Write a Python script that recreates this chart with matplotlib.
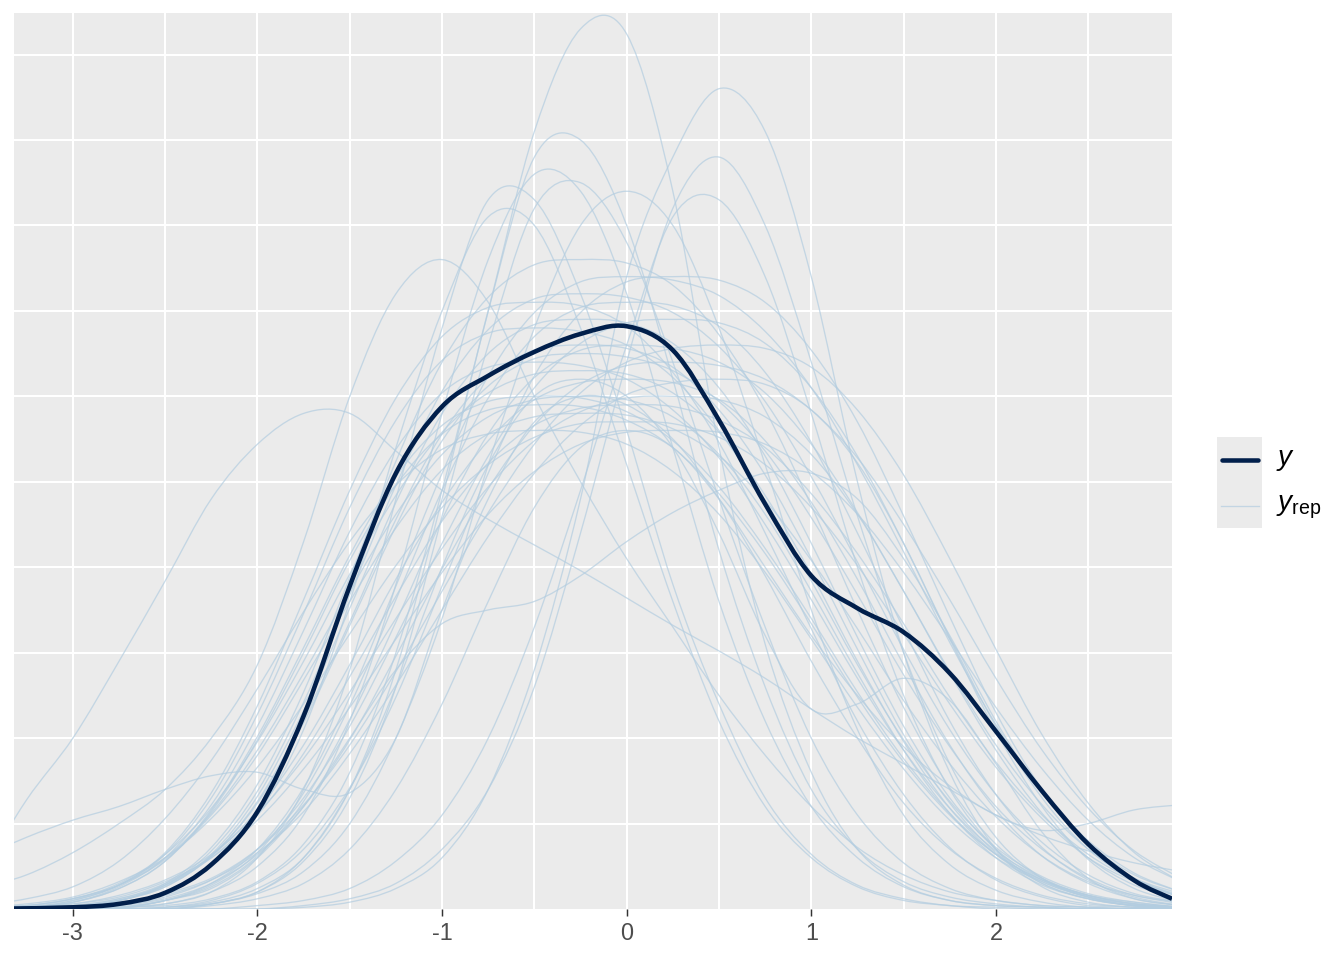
import matplotlib
matplotlib.use("Agg")
import matplotlib.pyplot as plt
from matplotlib.lines import Line2D
from matplotlib.patches import Rectangle, PathPatch
from matplotlib.path import Path

plt.rcParams['font.family'] = ['Liberation Sans', 'DejaVu Sans']
plt.rcParams['axes.unicode_minus'] = False
plt.rcParams['mathtext.fontset'] = 'custom'
plt.rcParams['mathtext.rm'] = 'Liberation Sans'
plt.rcParams['mathtext.it'] = 'Liberation Sans:italic'

y_x = [-3.319, -3.0, -2.75, -2.5, -2.25, -2.0, -1.75, -1.5, -1.25, -1.0, -0.75, -0.5, -0.25,
       0.0, 0.25, 0.5, 0.75, 1.0, 1.25, 1.5, 1.75, 2.0, 2.25, 2.5, 2.75, 2.954]
y_dens = [0.0003, 0.001, 0.003, 0.0095, 0.026, 0.057, 0.113, 0.189, 0.255, 0.294, 0.312, 0.326,
          0.3365, 0.341, 0.327, 0.286, 0.237, 0.195, 0.176, 0.162, 0.138, 0.104, 0.069,
          0.038, 0.0167, 0.006]

# replicated densities (y_rep), estimated on a common x grid
grid_x = [-3.5, -3.25, -3.0, -2.75, -2.5, -2.25, -2.0, -1.75, -1.5, -1.25, -1.0, -0.75, -0.5,
          -0.25, 0.0, 0.25, 0.5, 0.75, 1.0, 1.25, 1.5, 1.75, 2.0, 2.25, 2.5, 2.75, 3.0]

rep_01 = [0, 0, 0, .001, .002, .006, .016, .038, .08, .15, .245, .35, .455, .515, .512, .42, .27, .155, .08, .035, .014, .005, .002, .001, 0, 0, 0]
rep_02 = [0, 0, 0, 0, 0, 0, 0, .001, .004, .012, .03, .07, .14, .24, .37, .44, .48, .455, .37, .25, .15, .08, .035, .013, .004, .001, 0]
rep_03 = [0, 0, 0, 0, .001, .004, .012, .03, .07, .14, .24, .35, .44, .45, .40, .31, .21, .13, .07, .035, .016, .007, .003, .001, 0, 0, 0]
rep_04 = [0, 0, 0, 0, 0, 0, 0, .002, .006, .015, .035, .07, .13, .22, .32, .41, .44, .40, .32, .23, .15, .085, .042, .018, .007, .002, .001]
rep_05 = [0, 0, 0, .001, .003, .01, .025, .055, .11, .19, .29, .38, .43, .42, .36, .27, .18, .11, .06, .03, .013, .005, .002, .001, 0, 0, 0]
rep_06 = [0, 0, 0, 0, 0, .003, .01, .028, .065, .13, .23, .33, .41, .425, .39, .32, .24, .165, .10, .055, .027, .012, .005, .002, .001, 0, 0]
rep_07 = [0, 0, 0, 0, .001, .003, .009, .022, .05, .10, .17, .26, .34, .40, .42, .40, .34, .26, .175, .105, .055, .026, .011, .004, .001, 0, 0]
rep_08 = [0, 0, 0, .001, .003, .01, .03, .07, .14, .24, .34, .415, .415, .36, .28, .19, .12, .065, .032, .014, .006, .002, .001, 0, 0, 0, 0]
rep_09 = [0, 0, 0, 0, 0, 0, .002, .005, .012, .028, .055, .10, .165, .245, .33, .405, .415, .37, .29, .20, .125, .07, .035, .015, .006, .002, .001]
rep_10 = [0, 0, .001, .003, .01, .025, .055, .105, .18, .27, .35, .405, .40, .34, .26, .18, .11, .06, .03, .013, .005, .002, 0, 0, 0, 0, 0]
rep_11 = [.012, .02, .033, .05, .07, .10, .143, .215, .30, .36, .38, .355, .30, .25, .205, .165, .125, .09, .06, .036, .02, .01, .005, .002, .001, 0, 0]
rep_12 = [.02, .064, .10, .145, .192, .24, .272, .29, .29, .268, .245, .228, .213, .198, .182, .166, .151, .135, .117, .10, .085, .07, .055, .043, .034, .027, .022]
rep_13 = [0, 0, 0, 0, 0, .003, .01, .03, .07, .13, .20, .26, .30, .31, .30, .27, .22, .16, .117, .12, .135, .122, .085, .045, .018, .006, .002]
rep_14 = [.03, .042, .052, .06, .07, .078, .08, .07, .068, .10, .175, .24, .285, .30, .295, .275, .24, .195, .145, .10, .062, .035, .018, .008, .003, .001, 0]
rep_15 = [0, 0, 0, 0, 0, .002, .006, .015, .035, .07, .12, .18, .235, .27, .28, .27, .24, .20, .16, .125, .095, .072, .055, .046, .05, .058, .061]
rep_16 = [0, 0, 0, 0, .005, .012, .03, .06, .10, .14, .167, .175, .18, .195, .215, .232, .245, .255, .255, .24, .205, .16, .11, .068, .038, .02, .01]
rep_17 = [0, 0, .001, .005, .013, .031, .063, .111, .168, .228, .278, .311, .327, .330, .328, .317, .292, .254, .205, .152, .102, .062, .033, .016, .007, .002, .001]
rep_18 = [0, .001, .002, .006, .015, .031, .058, .096, .143, .193, .238, .274, .298, .308, .310, .308, .298, .274, .238, .193, .143, .096, .058, .031, .015, .006, .002]
rep_19 = [0, .001, .005, .014, .032, .065, .114, .173, .235, .286, .321, .337, .340, .338, .330, .311, .280, .239, .192, .143, .099, .063, .036, .019, .009, .004, .001]
rep_20 = [0, 0, .001, .005, .014, .034, .069, .121, .184, .248, .303, .339, .357, .360, .358, .349, .329, .297, .253, .203, .152, .105, .067, .039, .020, .009, .004]
rep_21 = [0, 0, .001, .002, .006, .015, .032, .060, .099, .148, .199, .246, .283, .307, .318, .320, .318, .310, .292, .264, .225, .181, .135, .093, .059, .034, .018]
rep_22 = [0, .001, .004, .012, .028, .058, .101, .153, .207, .253, .283, .297, .300, .299, .291, .274, .247, .211, .170, .127, .088, .056, .032, .017, .008, .003, .001]
rep_23 = [0, 0, 0, .001, .005, .014, .033, .068, .119, .181, .245, .299, .335, .352, .355, .353, .341, .314, .273, .220, .164, .110, .067, .036, .017, .007, .002]
rep_24 = [0, .001, .003, .008, .017, .032, .056, .088, .127, .170, .211, .247, .274, .291, .299, .300, .298, .288, .266, .231, .186, .138, .093, .056, .030, .014, .006]
rep_25 = [.001, .002, .006, .014, .029, .055, .090, .134, .180, .223, .257, .278, .288, .290, .289, .281, .265, .239, .204, .164, .122, .085, .054, .031, .016, .008, .003]
rep_26 = [0, .001, .004, .013, .030, .061, .107, .163, .221, .269, .302, .317, .320, .318, .310, .292, .264, .225, .181, .135, .093, .059, .034, .018, .008, .004, .001]
rep_27 = [.001, .003, .007, .016, .030, .053, .083, .120, .161, .201, .235, .260, .276, .284, .285, .284, .276, .260, .235, .201, .161, .120, .083, .053, .030, .016, .007]
rep_28 = [0, 0, .002, .005, .015, .036, .073, .127, .194, .262, .320, .358, .377, .380, .378, .365, .336, .292, .236, .175, .118, .071, .038, .018, .008, .003, .001]
rep_29 = [0, 0, .001, .003, .008, .017, .033, .057, .091, .131, .175, .218, .255, .283, .301, .308, .310, .307, .292, .261, .214, .158, .104, .060, .029, .012, .004]
rep_30 = [0, .001, .005, .014, .033, .068, .119, .181, .245, .299, .335, .352, .355, .353, .341, .314, .273, .220, .164, .110, .067, .036, .017, .007, .002, .001, 0]
rep_31 = [0, 0, .001, .002, .007, .017, .035, .065, .107, .159, .214, .265, .305, .331, .343, .345, .343, .331, .305, .265, .214, .159, .107, .065, .035, .017, .007]
rep_32 = [0, .001, .004, .012, .028, .057, .099, .150, .204, .248, .278, .292, .295, .294, .286, .270, .243, .208, .167, .124, .086, .055, .032, .017, .008, .003, .001]
rep_33 = [0, 0, 0, .001, .005, .015, .035, .071, .124, .189, .255, .312, .349, .367, .370, .368, .359, .338, .305, .260, .209, .156, .108, .068, .040, .021, .010]
rep_34 = [.001, .002, .006, .014, .030, .056, .093, .138, .186, .231, .266, .288, .298, .300, .298, .288, .266, .231, .186, .138, .093, .056, .030, .014, .006, .002, .001]
rep_35 = [0, 0, .001, .004, .009, .018, .035, .061, .096, .139, .186, .232, .272, .302, .320, .328, .330, .328, .317, .292, .254, .205, .152, .102, .062, .033, .016]
rep_36 = [.001, .002, .006, .015, .032, .059, .098, .145, .196, .242, .279, .302, .313, .315, .313, .302, .279, .242, .196, .145, .098, .059, .032, .015, .006, .002, .001]
rep_37 = [0, .001, .003, .007, .016, .030, .052, .082, .118, .158, .197, .231, .256, .272, .279, .280, .279, .272, .256, .231, .197, .158, .118, .082, .052, .030, .016]
rep_38 = [0, 0, .001, .005, .013, .031, .062, .109, .166, .224, .274, .306, .322, .325, .323, .315, .297, .268, .229, .184, .137, .095, .060, .035, .018, .008, .004]
rep_39 = [0, 0, 0, .001, .005, .013, .031, .063, .111, .168, .228, .278, .311, .327, .330, .328, .320, .302, .272, .232, .186, .139, .096, .061, .035, .018, .009]
rep_40 = [.002, .006, .013, .028, .053, .087, .129, .174, .215, .248, .269, .278, .280, .279, .272, .256, .231, .197, .158, .118, .082, .052, .030, .016, .007, .003, .001]
rep_41 = [0, 0, 0, 0, .001, .005, .015, .035, .071, .124, .189, .255, .312, .349, .367, .370, .368, .355, .327, .285, .230, .171, .115, .070, .037, .018, .007]
rep_42 = [0, 0, .001, .005, .014, .032, .066, .116, .176, .238, .290, .325, .342, .345, .343, .331, .305, .265, .214, .159, .107, .065, .035, .017, .007, .002, .001]
rep_43 = [0, .001, .002, .006, .014, .030, .055, .091, .136, .183, .227, .261, .283, .293, .295, .294, .286, .270, .243, .208, .167, .124, .086, .055, .032, .017, .008]

yrep_curves = [rep_01, rep_02, rep_03, rep_04, rep_05, rep_06, rep_07, rep_08, rep_09, rep_10,
               rep_11, rep_12, rep_13, rep_14, rep_15, rep_16, rep_17, rep_18, rep_19, rep_20,
               rep_21, rep_22, rep_23, rep_24, rep_25, rep_26, rep_27, rep_28, rep_29, rep_30,
               rep_31, rep_32, rep_33, rep_34, rep_35, rep_36, rep_37, rep_38, rep_39, rep_40,
               rep_41, rep_42, rep_43]

x_ticks = [-3, -2, -1, 0, 1, 2]
x_labels = ['-3', '-2', '-1', '0', '1', '2']

dark = '#011f4b'
light = '#b3cde0'


def smooth_line(ax, xs, ys, **kw):
    # draw a curve through the points as a Catmull-Rom spline (bezier segments)
    pts = list(zip(xs, ys))
    n = len(pts)
    verts = [pts[0]]
    codes = [Path.MOVETO]
    for i in range(n - 1):
        p0 = pts[i - 1] if i > 0 else pts[i]
        p1 = pts[i]
        p2 = pts[i + 1]
        p3 = pts[i + 2] if i + 2 < n else pts[i + 1]
        c1 = (p1[0] + (p2[0] - p0[0]) / 6, p1[1] + (p2[1] - p0[1]) / 6)
        c2 = (p2[0] - (p3[0] - p1[0]) / 6, p2[1] - (p3[1] - p1[1]) / 6)
        verts += [c1, c2, p2]
        codes += [Path.CURVE4] * 3
    ax.add_patch(PathPatch(Path(verts, codes), facecolor='none', **kw))


fig = plt.figure(figsize=(7, 5), dpi=192)
ax = fig.add_axes([14 / 1344, 1 - 909 / 960, (1172 - 14) / 1344, (909 - 13) / 960])
ax.set_facecolor('#EBEBEB')
for s in ax.spines.values():
    s.set_visible(False)

for vals in yrep_curves:
    smooth_line(ax, grid_x, vals, edgecolor=light, alpha=0.7, lw=0.5, zorder=2)
smooth_line(ax, y_x, y_dens, edgecolor=dark, lw=1.7, zorder=3, capstyle='butt')

ax.set_xlim(-3.319, 2.954)
ax.set_ylim(0, 0.5243)
ax.set_xticks(x_ticks)
ax.set_xticklabels(x_labels)
ax.set_xticks([-2.5, -1.5, -0.5, 0.5, 1.5, 2.5], minor=True)
ax.set_yticks([0.1, 0.2, 0.3, 0.4, 0.5])
ax.set_yticks([0.05, 0.15, 0.25, 0.35, 0.45], minor=True)
ax.grid(which='both', color='white', lw=0.75)
ax.set_axisbelow(True)
ax.tick_params(axis='y', which='both', left=False, labelleft=False)
ax.tick_params(axis='x', which='minor', bottom=False)
ax.tick_params(axis='x', which='major', length=2.75, width=0.55, color='#333333',
               labelcolor='#4D4D4D', labelsize=8.8, pad=2.2)

# legend drawn by hand, ggplot style
fig.patches.append(Rectangle((1217 / 1344, 1 - 528 / 960), 45 / 1344, 91 / 960,
                             transform=fig.transFigure, facecolor='#EBEBEB', edgecolor='none'))
fig.lines.append(Line2D([1222 / 1344, 1258 / 1344], [1 - 460 / 960] * 2, transform=fig.transFigure,
                        color=dark, lw=1.7, solid_capstyle='round'))
fig.lines.append(Line2D([1221 / 1344, 1259 / 1344], [1 - 506 / 960] * 2, transform=fig.transFigure,
                        color=light, alpha=0.7, lw=0.5))
fig.text(1276 / 1344, 1 - 460 / 960, r'$y$', va='center', ha='left', fontsize=10.5)
fig.text(1276 / 1344, 1 - 507 / 960, r'$y_{\mathrm{rep}}$', va='center', ha='left', fontsize=10.5)

fig.savefig('out.png', dpi=192)
